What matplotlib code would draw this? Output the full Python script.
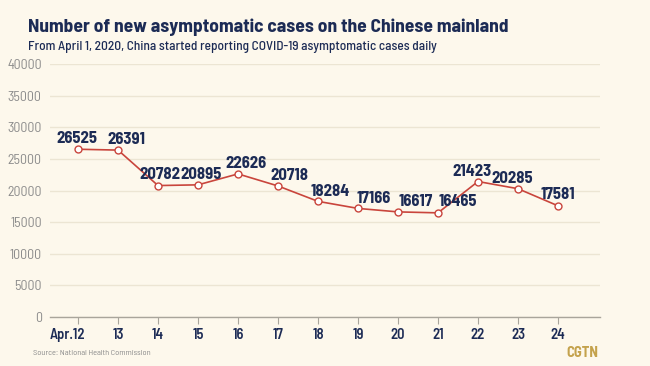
import matplotlib.pyplot as plt
from matplotlib.transforms import ScaledTranslation

days = ['Apr.12', '13', '14', '15', '16', '17', '18', '19', '20', '21', '22', '23', '24']
day_num = [12, 13, 14, 15, 16, 17, 18, 19, 20, 21, 22, 23, 24]
cases = [26525, 26391, 20782, 20895, 22626, 20718, 18284, 17166, 16617, 16465, 21423, 20285, 17581]
yticks = [0, 5000, 10000, 15000, 20000, 25000, 30000, 35000, 40000]

# label nudges (x, y in points) so numbers sit like the original
label_dx = [-1, 6, 1, 2, 6, 8, 9, 11, 13, 14, -4, -4, 0]
label_dy = [2, 2, 2.5, 2, 2, 2, 2, 2, 2, 3, 1.5, 2, 3]

BG = '#fdf8ec'
NAVY = '#1c2b55'
RED = '#c9453c'
GRID = '#ece5d3'
FONT = ['Barlow Semi Condensed', 'Saira SemiCondensed', 'DejaVu Sans']
plt.rcParams['font.family'] = FONT


def main():
    fig = plt.figure(figsize=(6.5, 3.66), dpi=100, facecolor=BG)
    ax = fig.add_axes([0.077, 0.134, 0.846, 0.691])
    ax.set_facecolor(BG)

    ax.plot(day_num, cases, color=RED, lw=1.2, marker='o', ms=5,
            mfc='white', mec=RED, mew=1.0, zorder=3)

    for x, y, dx, dy in zip(day_num, cases, label_dx, label_dy):
        ax.annotate(f'{y}', (x, y), xytext=(dx, dy), textcoords='offset points',
                    ha='center', va='bottom', fontsize=12, fontweight='bold',
                    color=NAVY, zorder=4)

    ax.set_xlim(11.3, 25.05)
    ax.set_ylim(0, 40000)
    ax.set_yticks(yticks)
    ax.set_yticklabels([str(v) for v in yticks])
    ax.set_xticks(day_num)
    ax.set_xticklabels(days)

    ax.grid(axis='y', color=GRID, lw=1.0)
    ax.set_axisbelow(True)
    for s in ['top', 'right', 'left']:
        ax.spines[s].set_visible(False)
    ax.spines['bottom'].set_color('#a9a59b')
    ax.spines['bottom'].set_linewidth(1.0)

    ax.tick_params(axis='y', length=0, pad=6, labelsize=10, labelcolor='#8c8c8c')
    ax.tick_params(axis='x', length=5, color='#a9a59b', pad=3, labelsize=10.5,
                   labelcolor=NAVY)
    for lab in ax.get_xticklabels():
        lab.set_fontweight('semibold')
    first = ax.get_xticklabels()[0]
    first.set_horizontalalignment('right')
    first.set_transform(first.get_transform() + ScaledTranslation(5 / 72, 0, fig.dpi_scale_trans))

    fig.text(0.043, 0.925, 'Number of new asymptomatic cases on the Chinese mainland',
             fontsize=14, fontweight='bold', color=NAVY, va='center')
    fig.text(0.043, 0.872, 'From April 1, 2020, China started reporting COVID-19 asymptomatic cases daily',
             fontsize=9.6, fontweight='medium', color=NAVY, va='center')
    fig.text(0.051, 0.033, 'Source: National Health Commission',
             fontsize=6, color='#8c8c8c', va='center')
    fig.text(0.921, 0.036, 'CGTN', fontsize=10.5, fontweight='bold', color='#c4a24c',
             ha='right', va='center')

    fig.savefig('out.png', dpi=100, facecolor=BG)


main()
